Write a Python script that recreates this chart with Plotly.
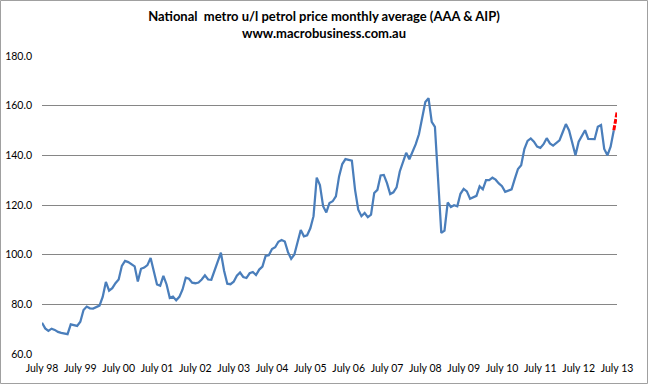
import plotly.graph_objects as go

# Monthly index 0 = July 1998 ... 180 = July 2013
values = [
    72.6, 70.3, 69.3, 70.2, 69.7, 68.9, 68.5, 68.3, 68.0, 71.9,
    71.7, 71.3, 73.0, 77.7, 79.1, 78.4, 78.3, 78.9, 79.5, 83.0,
    89.0, 85.5, 86.5, 88.5, 90.0, 95.5, 97.5, 97.0, 96.2, 95.3,
    89.2, 94.3, 94.8, 95.8, 98.7, 93.5, 88.0, 87.5, 91.5, 88.0,
    82.6, 83.1, 81.6, 83.0, 86.0, 90.7, 90.3, 88.7, 88.5, 88.8,
    90.0, 91.7, 90.0, 89.9, 93.5, 97.5, 100.8, 93.5, 88.3, 88.1,
    89.1, 91.5, 92.8, 91.0, 90.6, 92.5, 93.0, 91.8, 94.0, 95.2,
    99.5, 99.8, 102.3, 103.0, 105.2, 105.9, 105.3, 101.0, 98.3, 100.1,
    105.0, 109.9, 107.4, 107.8, 110.6, 115.5, 131.0, 128.0, 119.5, 117.0,
    120.8, 121.5, 123.5, 131.5, 136.5, 138.5, 138.2, 137.9, 126.1, 118.1,
    115.5, 116.8, 115.1, 116.1, 124.8, 126.1, 131.9, 132.1, 128.8, 124.4,
    125.1, 127.1, 133.5, 137.5, 141.0, 138.4, 141.5, 144.5, 148.5, 155.0,
    161.5, 163.0, 153.5, 151.5, 130.0, 108.8, 109.7, 121.0, 119.2, 119.9,
    119.5, 124.5, 126.5, 125.5, 122.5, 123.2, 123.7, 127.5, 126.3, 130.0,
    130.0, 131.0, 130.2, 128.7, 127.6, 125.3, 125.8, 126.3, 130.5, 134.5,
    136.0, 142.5, 145.8, 146.8, 145.5, 143.5, 143.0, 144.5, 146.9, 144.8,
    143.9, 144.8, 146.0, 149.3, 152.6, 150.0, 144.5, 140.0, 145.5, 148.0,
    150.1, 146.6, 146.5, 146.5, 151.5, 152.2, 142.6, 140.0, 143.5, 150.1,
]
latest_values = [150.1, 157.2]
latest_months = [179, 180]

tick_months = [0, 12, 24, 36, 48, 60, 72, 84, 96, 108, 120, 132, 144, 156, 168, 180]
tick_labels = ["July 98", "July 99", "July 00", "July 01", "July 02", "July 03",
               "July 04", "July 05", "July 06", "July 07", "July 08", "July 09",
               "July 10", "July 11", "July 12", "July 13"]
y_ticks = [60, 80, 100, 120, 140, 160, 180]

months = list(range(len(values)))

fig = go.Figure()
fig.add_trace(go.Scatter(x=months, y=values, mode="lines",
                         line=dict(color="#4A7EBB", width=2.25), hoverinfo="skip"))
fig.add_trace(go.Scatter(x=latest_months, y=latest_values, mode="lines",
                         line=dict(color="#FF0000", width=3, dash="5px,1.5px"), hoverinfo="skip"))

W, H = 648, 384
ml, mr, mt, mb = 42, 31, 56, 30
fig.update_layout(
    width=W, height=H,
    margin=dict(l=ml, r=mr, t=mt, b=mb, autoexpand=False),
    paper_bgcolor="white", plot_bgcolor="white",
    showlegend=False,
    font=dict(family="Lato, Liberation Sans, sans-serif", size=11, color="#000000"),
    title=dict(text="<b>National  metro u/l petrol price monthly average (AAA & AIP)<br>www.macrobusiness.com.au</b>",
               x=0.5, xanchor="center", y=0.945, yanchor="top",
               font=dict(size=13, family="Lato, Liberation Sans, sans-serif")),
    xaxis=dict(range=[0, 180], tickmode="array", tickvals=tick_months, ticktext=tick_labels,
               showgrid=False, zeroline=False, showline=False, ticks="",
               tickfont=dict(size=10.5), tickangle=0, ticklabelstandoff=6),
    yaxis=dict(range=[60, 180], tickmode="array", tickvals=y_ticks, tickformat=".1f",
               showgrid=True, gridcolor="#868686", gridwidth=1, zeroline=False,
               showline=False, ticks="", tickfont=dict(size=10.5), ticklabelstandoff=9),
)

pw = W - ml - mr
ph = H - mt - mb
fig.add_shape(type="rect", xref="paper", yref="paper",
              x0=(-ml + 0.5) / pw, x1=(pw + mr - 0.5) / pw,
              y0=(-mb + 0.5) / ph, y1=(ph + mt - 0.5) / ph,
              line=dict(color="#A0A0A0", width=1), fillcolor="rgba(0,0,0,0)", layer="below")

fig.write_html("out.html",
               config={"displayModeBar": False, "staticPlot": True},
               post_script="document.body.style.margin='0';document.body.style.overflow='hidden';")
